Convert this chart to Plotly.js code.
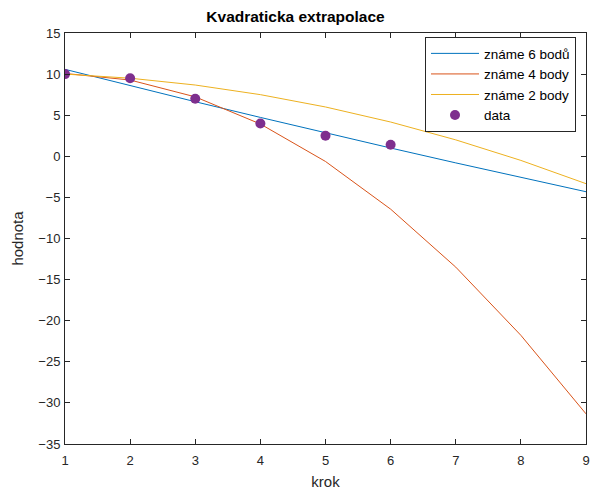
<!DOCTYPE html>
<html><head><meta charset="utf-8">
<script src="https://cdn.plot.ly/plotly-3.0.1.min.js"></script>
<style>html,body{margin:0;padding:0;background:#fff}#chart{width:591px;height:492px}</style>
</head><body><div id="chart"></div>
<script>
const steps = [1,2,3,4,5,6,7,8,9];
const known6 = [10.58, 8.59, 6.64, 4.73, 2.85, 1.01, -0.80, -2.57, -4.31];
const known4 = [10.08, 9.28, 7.23, 3.93, -0.63, -6.43, -13.48, -21.78, -31.33];
const known2 = [10.0, 9.5, 8.67, 7.5, 6.0, 4.17, 2.0, -0.5, -3.33];
const dataX = [1,2,3,4,5,6];
const dataY = [10, 9.5, 7, 4, 2.5, 1.4];
const names = ['známe 6 bodů','známe 4 body','známe 2 body','data'];
const yTicks = [15,10,5,0,-5,-10,-15,-20,-25,-30,-35];

const font = 'Liberation Sans, Arial, Helvetica, sans-serif';
const axisCol = '#262626';
const traces = [
  {x: steps, y: known6, name: names[0], mode: 'lines', line: {color: '#0072BD', width: 1}},
  {x: steps, y: known4, name: names[1], mode: 'lines', line: {color: '#D95319', width: 1}},
  {x: steps, y: known2, name: names[2], mode: 'lines', line: {color: '#EDB120', width: 1}},
  {x: dataX, y: dataY, name: names[3], mode: 'markers', marker: {color: '#7E2F8E', size: 10}}
];
const layout = {
  width: 591, height: 492,
  margin: {l: 65, r: 5, t: 33, b: 48},
  paper_bgcolor: '#fff', plot_bgcolor: '#fff',
  font: {family: font, size: 13, color: axisCol},
  title: {text: '<b>Kvadraticka extrapolace</b>', font: {family: font, size: 15.5, color: '#000'}, x: 0.5, xanchor: 'center', y: 0.978, yanchor: 'top'},
  xaxis: {range: [1, 9], tickvals: steps, ticks: 'inside', ticklen: 5, tickcolor: axisCol,
    showline: true, linecolor: axisCol, linewidth: 1, mirror: 'ticks', showgrid: false, zeroline: false,
    ticklabelstandoff: 4,
    title: {text: 'krok', font: {size: 15, color: axisCol}, standoff: 9}, tickfont: {size: 13}},
  yaxis: {range: [-35, 15], tickvals: yTicks, ticks: 'inside', ticklen: 5, tickcolor: axisCol,
    showline: true, linecolor: axisCol, linewidth: 1, mirror: 'ticks', showgrid: false, zeroline: false,
    ticklabelstandoff: 1,
    title: {text: 'hodnota', font: {size: 15, color: axisCol}, standoff: 11}, tickfont: {size: 13}},
  showlegend: true,
  legend: {x: 0.691, y: 0.99, xanchor: 'left', yanchor: 'top', bgcolor: '#fff', bordercolor: axisCol, borderwidth: 1,
    font: {size: 13.5, color: '#000'}, tracegroupgap: 0, itemwidth: 48}
};
Plotly.newPlot('chart', traces, layout, {displayModeBar: false, staticPlot: true});
</script></body></html>
